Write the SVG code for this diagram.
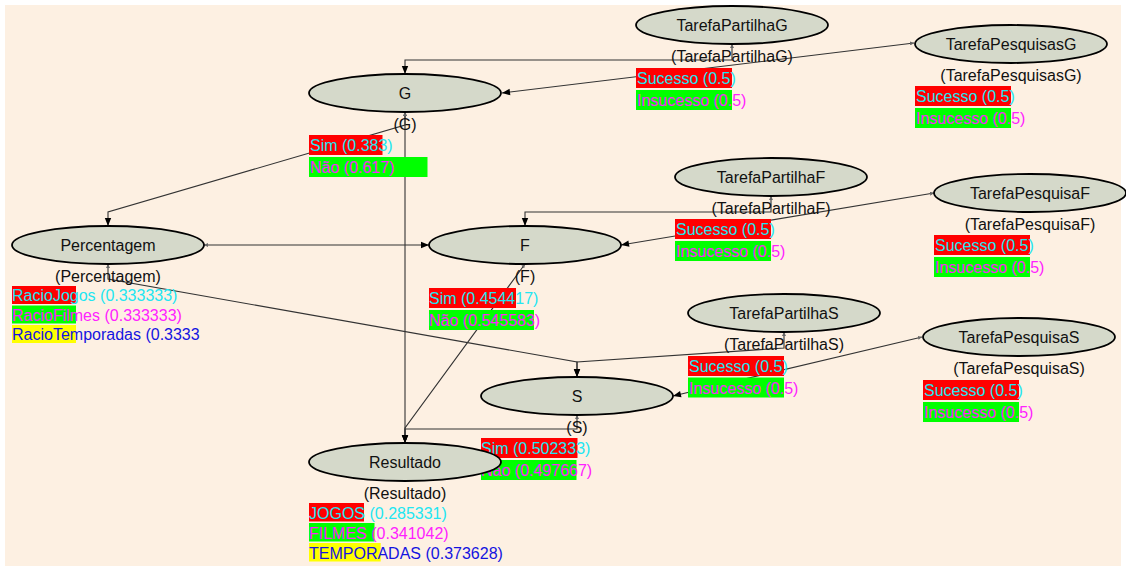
<svg xmlns="http://www.w3.org/2000/svg" width="1126" height="570" viewBox="0 0 1126 570">
  <style>
    text { font-family: "Liberation Sans", Arial, sans-serif; font-size: 16px; }
    .node ellipse { fill: #d5d9ca; stroke: #000; stroke-width: 1.8; }
    .name { fill: #111; text-anchor: middle; }
    .lbl { fill: #111; text-anchor: middle; }
    .s1 { fill: #ff0000; }
    .s2 { fill: #00ff00; }
    .s3 { fill: #ffff00; }
    .t1 { fill: #22e6f2; }
    .t2 { fill: #ff22ff; }
    .t3 { fill: #1414e0; }
    .edge { fill: none; stroke: #333; stroke-width: 1.1; marker-end: url(#arr); marker-start: url(#tail); }
  </style>
  <defs>
    <marker id="arr" viewBox="0 0 10 10" refX="10" refY="5" markerWidth="9" markerHeight="8" markerUnits="userSpaceOnUse" orient="auto">
      <path d="M0,1 L10,5 L0,9 z" fill="#000"/>
    </marker>
    <marker id="tail" viewBox="0 0 6 6" refX="0" refY="3" markerWidth="4" markerHeight="4" markerUnits="userSpaceOnUse" orient="auto">
      <path d="M6,0 L0,3 L6,6 z" fill="#666"/>
    </marker>
  </defs>

  <rect x="0" y="0" width="1126" height="570" fill="#ffffff"/>
  <rect x="5" y="5" width="1116" height="561" fill="#fdf0e2"/>

  <!-- connectors -->
  <g id="connectors">
    <path class="edge" d="M732,44 V60 H405 V74"/>
    <path class="edge" d="M914,43 L502,93"/>
    <path class="edge" d="M405,112 V125 L108,212 V226"/>
    <path class="edge" d="M405,112 V443"/>
    <path class="edge" d="M204,245 H429"/>
    <path class="edge" d="M108,264 V279 L577,362 V377"/>
    <path class="edge" d="M771,196 V212 H525 V226"/>
    <path class="edge" d="M934,193 L621,245"/>
    <path class="edge" d="M525,264 L405,428 V443"/>
    <path class="edge" d="M784,332 V348 L577,362 V377"/>
    <path class="edge" d="M922,337 L673,396"/>
    <path class="edge" d="M577,415 V429 H405 V443"/>
  </g>

  <!-- TarefaPartilhaG -->
  <g id="TarefaPartilhaG" class="node">
    <ellipse cx="732" cy="25" rx="96" ry="19"/>
    <text class="name" x="732" y="31">TarefaPartilhaG</text>
    <text class="lbl" x="732" y="62">(TarefaPartilhaG)</text>
    <rect class="s1" x="636" y="68" width="96" height="20"/>
    <text class="t1" x="637" y="84">Sucesso (0.5)</text>
    <rect class="s2" x="636" y="90" width="96" height="20"/>
    <text class="t2" x="637" y="106">Insucesso (0.5)</text>
  </g>

  <!-- TarefaPesquisasG -->
  <g id="TarefaPesquisasG" class="node">
    <ellipse cx="1011" cy="44" rx="96" ry="19"/>
    <text class="name" x="1011" y="50">TarefaPesquisasG</text>
    <text class="lbl" x="1011" y="81">(TarefaPesquisasG)</text>
    <rect class="s1" x="915" y="86" width="96" height="20"/>
    <text class="t1" x="916" y="102">Sucesso (0.5)</text>
    <rect class="s2" x="915" y="108" width="96" height="20"/>
    <text class="t2" x="916" y="124">Insucesso (0.5)</text>
  </g>

  <!-- G -->
  <g id="G" class="node">
    <ellipse cx="405" cy="93" rx="96" ry="19"/>
    <text class="name" x="405" y="99">G</text>
    <text class="lbl" x="405" y="130">(G)</text>
    <rect class="s1" x="309" y="135" width="73.5" height="20"/>
    <text class="t1" x="310" y="151">Sim (0.383)</text>
    <rect class="s2" x="309" y="157" width="118.5" height="20"/>
    <text class="t2" x="310" y="173">Não (0.617)</text>
  </g>

  <!-- TarefaPartilhaF -->
  <g id="TarefaPartilhaF" class="node">
    <ellipse cx="771" cy="177" rx="96" ry="19"/>
    <text class="name" x="771" y="183">TarefaPartilhaF</text>
    <text class="lbl" x="771" y="214">(TarefaPartilhaF)</text>
    <rect class="s1" x="675" y="219" width="96" height="20"/>
    <text class="t1" x="676" y="235">Sucesso (0.5)</text>
    <rect class="s2" x="675" y="241" width="96" height="20"/>
    <text class="t2" x="676" y="257">Insucesso (0.5)</text>
  </g>

  <!-- TarefaPesquisaF -->
  <g id="TarefaPesquisaF" class="node">
    <ellipse cx="1030" cy="193" rx="96" ry="19"/>
    <text class="name" x="1030" y="199">TarefaPesquisaF</text>
    <text class="lbl" x="1030" y="230">(TarefaPesquisaF)</text>
    <rect class="s1" x="934" y="235" width="96" height="20"/>
    <text class="t1" x="935" y="251">Sucesso (0.5)</text>
    <rect class="s2" x="934" y="257" width="96" height="20"/>
    <text class="t2" x="935" y="273">Insucesso (0.5)</text>
  </g>

  <!-- Percentagem -->
  <g id="Percentagem" class="node">
    <ellipse cx="108" cy="245" rx="96" ry="19"/>
    <text class="name" x="108" y="251">Percentagem</text>
    <text class="lbl" x="108" y="282">(Percentagem)</text>
    <rect class="s1" x="12" y="286" width="64" height="18"/>
    <text class="t1" x="12" y="301">RacioJogos (0.333333)</text>
    <rect class="s2" x="12" y="305.5" width="64" height="18"/>
    <text class="t2" x="12" y="320.5">RacioFilmes (0.333333)</text>
    <rect class="s3" x="12" y="325" width="64" height="18"/>
    <text class="t3" x="12" y="340">RacioTemporadas (0.3333</text>
  </g>

  <!-- F -->
  <g id="F" class="node">
    <ellipse cx="525" cy="245" rx="96" ry="19"/>
    <text class="name" x="525" y="251">F</text>
    <text class="lbl" x="525" y="282">(F)</text>
    <rect class="s1" x="429" y="288" width="87" height="20"/>
    <text class="t1" x="429" y="304">Sim (0.454417)</text>
    <rect class="s2" x="429" y="310" width="105" height="20"/>
    <text class="t2" x="429" y="326">Não (0.545583)</text>
  </g>

  <!-- TarefaPartilhaS -->
  <g id="TarefaPartilhaS" class="node">
    <ellipse cx="784" cy="313" rx="96" ry="19"/>
    <text class="name" x="784" y="319">TarefaPartilhaS</text>
    <text class="lbl" x="784" y="350">(TarefaPartilhaS)</text>
    <rect class="s1" x="688" y="356" width="96" height="20"/>
    <text class="t1" x="689" y="372">Sucesso (0.5)</text>
    <rect class="s2" x="688" y="377.5" width="96" height="20"/>
    <text class="t2" x="689" y="393.5">Insucesso (0.5)</text>
  </g>

  <!-- TarefaPesquisaS -->
  <g id="TarefaPesquisaS" class="node">
    <ellipse cx="1019" cy="337" rx="96" ry="19"/>
    <text class="name" x="1019" y="343">TarefaPesquisaS</text>
    <text class="lbl" x="1019" y="374">(TarefaPesquisaS)</text>
    <rect class="s1" x="923" y="380" width="96" height="20"/>
    <text class="t1" x="924" y="396">Sucesso (0.5)</text>
    <rect class="s2" x="923" y="402" width="96" height="20"/>
    <text class="t2" x="924" y="418">Insucesso (0.5)</text>
  </g>

  <!-- S -->
  <g id="S" class="node">
    <ellipse cx="577" cy="396" rx="96" ry="19"/>
    <text class="name" x="577" y="402">S</text>
    <text class="lbl" x="577" y="433">(S)</text>
    <rect class="s1" x="481" y="438" width="96.5" height="20"/>
    <text class="t1" x="481" y="454">Sim (0.502333)</text>
    <rect class="s2" x="481" y="460" width="95.5" height="20"/>
    <text class="t2" x="481" y="476">Não (0.497667)</text>
  </g>

  <!-- Resultado -->
  <g id="Resultado" class="node">
    <ellipse cx="405" cy="462" rx="96" ry="19"/>
    <text class="name" x="405" y="468">Resultado</text>
    <text class="lbl" x="405" y="499">(Resultado)</text>
    <rect class="s1" x="309" y="503" width="55" height="18.5"/>
    <text class="t1" x="309" y="518.5">JOGOS (0.285331)</text>
    <rect class="s2" x="309" y="523" width="65.5" height="18.5"/>
    <text class="t2" x="309" y="538.5">FILMES (0.341042)</text>
    <rect class="s3" x="309" y="543" width="71.7" height="18.5"/>
    <text class="t3" x="309" y="558.5">TEMPORADAS (0.373628)</text>
  </g>
</svg>
